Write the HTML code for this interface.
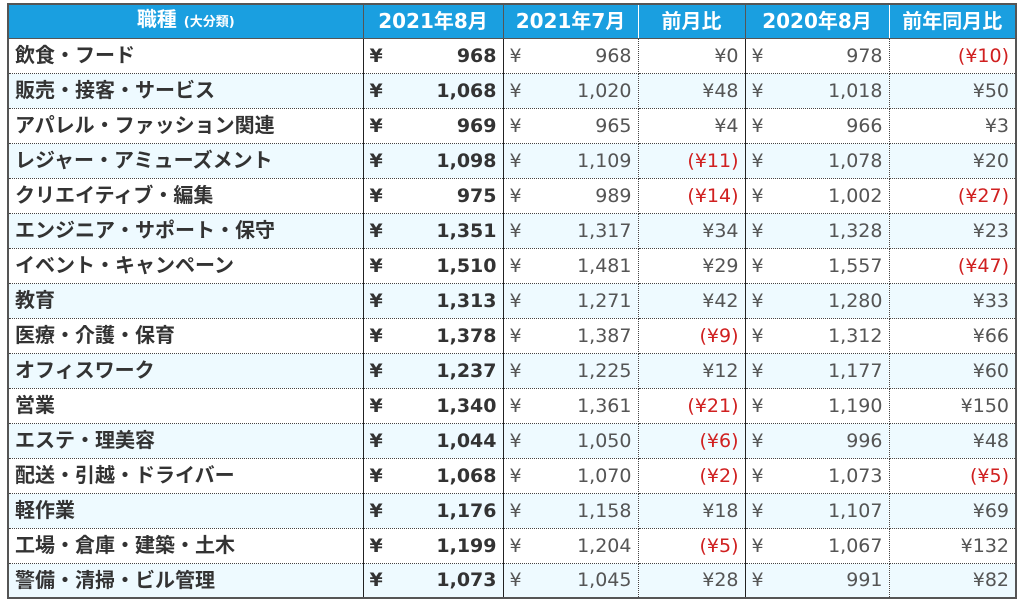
<!DOCTYPE html>
<html><head><meta charset="utf-8"><style>
html,body{margin:0;padding:0;background:#fff;width:1024px;height:599px;overflow:hidden}
table{position:absolute;left:7px;top:3px;border-collapse:collapse;table-layout:fixed;border:2px solid #555;
font-family:"DejaVu Sans","Noto Sans CJK JP",sans-serif;font-size:19px;color:#555}
td,th{height:35px;padding:0 6px;white-space:nowrap;border-bottom:1px dotted #444;overflow:hidden;line-height:20px;vertical-align:middle;box-sizing:border-box}
th{background:#1a9fe0;color:#fff;font-weight:bold;height:34px;font-size:20px;border-bottom:1px solid #555}
tr:nth-child(odd) td{background:#eefaff}
tr:nth-child(even) td{background:#fff}
.j{font-weight:bold;color:#333;text-align:left;border-right:1px solid #222;font-family:"Noto Sans CJK JP",sans-serif;font-size:20px;padding-bottom:3px}
.a{font-weight:bold;color:#333;border-right:1px solid #222}
.b{border-right:1px dotted #444}
.c{text-align:right;border-right:1px solid #222}
.d{border-right:1px dotted #444}
.e{text-align:right}
.y{float:left}.v{float:right}
.r{color:#d02020}
th.s{border-right:1px dotted #fff}
small{font-size:13px}
</style></head><body>
<table>
<colgroup><col style="width:355px"><col style="width:140px"><col style="width:135px"><col style="width:107px"><col style="width:144px"><col style="width:127px"></colgroup>
<tr><th style="border-right:1px solid #555">職種 <small>(大分類)</small></th><th style="border-right:1px solid #555">2021年8月</th><th class="s">2021年7月</th><th style="border-right:1px solid #555">前月比</th><th class="s">2020年8月</th><th>前年同月比</th></tr>
<tr><td class="j">飲食・フード</td><td class="a"><span class="y">¥</span><span class="v">968</span></td><td class="b"><span class="y">¥</span><span class="v">968</span></td><td class="c">¥0</td><td class="d"><span class="y">¥</span><span class="v">978</span></td><td class="e r">(¥10)</td></tr>
<tr><td class="j">販売・接客・サービス</td><td class="a"><span class="y">¥</span><span class="v">1,068</span></td><td class="b"><span class="y">¥</span><span class="v">1,020</span></td><td class="c">¥48</td><td class="d"><span class="y">¥</span><span class="v">1,018</span></td><td class="e">¥50</td></tr>
<tr><td class="j">アパレル・ファッション関連</td><td class="a"><span class="y">¥</span><span class="v">969</span></td><td class="b"><span class="y">¥</span><span class="v">965</span></td><td class="c">¥4</td><td class="d"><span class="y">¥</span><span class="v">966</span></td><td class="e">¥3</td></tr>
<tr><td class="j">レジャー・アミューズメント</td><td class="a"><span class="y">¥</span><span class="v">1,098</span></td><td class="b"><span class="y">¥</span><span class="v">1,109</span></td><td class="c r">(¥11)</td><td class="d"><span class="y">¥</span><span class="v">1,078</span></td><td class="e">¥20</td></tr>
<tr><td class="j">クリエイティブ・編集</td><td class="a"><span class="y">¥</span><span class="v">975</span></td><td class="b"><span class="y">¥</span><span class="v">989</span></td><td class="c r">(¥14)</td><td class="d"><span class="y">¥</span><span class="v">1,002</span></td><td class="e r">(¥27)</td></tr>
<tr><td class="j">エンジニア・サポート・保守</td><td class="a"><span class="y">¥</span><span class="v">1,351</span></td><td class="b"><span class="y">¥</span><span class="v">1,317</span></td><td class="c">¥34</td><td class="d"><span class="y">¥</span><span class="v">1,328</span></td><td class="e">¥23</td></tr>
<tr><td class="j">イベント・キャンペーン</td><td class="a"><span class="y">¥</span><span class="v">1,510</span></td><td class="b"><span class="y">¥</span><span class="v">1,481</span></td><td class="c">¥29</td><td class="d"><span class="y">¥</span><span class="v">1,557</span></td><td class="e r">(¥47)</td></tr>
<tr><td class="j">教育</td><td class="a"><span class="y">¥</span><span class="v">1,313</span></td><td class="b"><span class="y">¥</span><span class="v">1,271</span></td><td class="c">¥42</td><td class="d"><span class="y">¥</span><span class="v">1,280</span></td><td class="e">¥33</td></tr>
<tr><td class="j">医療・介護・保育</td><td class="a"><span class="y">¥</span><span class="v">1,378</span></td><td class="b"><span class="y">¥</span><span class="v">1,387</span></td><td class="c r">(¥9)</td><td class="d"><span class="y">¥</span><span class="v">1,312</span></td><td class="e">¥66</td></tr>
<tr><td class="j">オフィスワーク</td><td class="a"><span class="y">¥</span><span class="v">1,237</span></td><td class="b"><span class="y">¥</span><span class="v">1,225</span></td><td class="c">¥12</td><td class="d"><span class="y">¥</span><span class="v">1,177</span></td><td class="e">¥60</td></tr>
<tr><td class="j">営業</td><td class="a"><span class="y">¥</span><span class="v">1,340</span></td><td class="b"><span class="y">¥</span><span class="v">1,361</span></td><td class="c r">(¥21)</td><td class="d"><span class="y">¥</span><span class="v">1,190</span></td><td class="e">¥150</td></tr>
<tr><td class="j">エステ・理美容</td><td class="a"><span class="y">¥</span><span class="v">1,044</span></td><td class="b"><span class="y">¥</span><span class="v">1,050</span></td><td class="c r">(¥6)</td><td class="d"><span class="y">¥</span><span class="v">996</span></td><td class="e">¥48</td></tr>
<tr><td class="j">配送・引越・ドライバー</td><td class="a"><span class="y">¥</span><span class="v">1,068</span></td><td class="b"><span class="y">¥</span><span class="v">1,070</span></td><td class="c r">(¥2)</td><td class="d"><span class="y">¥</span><span class="v">1,073</span></td><td class="e r">(¥5)</td></tr>
<tr><td class="j">軽作業</td><td class="a"><span class="y">¥</span><span class="v">1,176</span></td><td class="b"><span class="y">¥</span><span class="v">1,158</span></td><td class="c">¥18</td><td class="d"><span class="y">¥</span><span class="v">1,107</span></td><td class="e">¥69</td></tr>
<tr><td class="j">工場・倉庫・建築・土木</td><td class="a"><span class="y">¥</span><span class="v">1,199</span></td><td class="b"><span class="y">¥</span><span class="v">1,204</span></td><td class="c r">(¥5)</td><td class="d"><span class="y">¥</span><span class="v">1,067</span></td><td class="e">¥132</td></tr>
<tr><td class="j">警備・清掃・ビル管理</td><td class="a"><span class="y">¥</span><span class="v">1,073</span></td><td class="b"><span class="y">¥</span><span class="v">1,045</span></td><td class="c">¥28</td><td class="d"><span class="y">¥</span><span class="v">991</span></td><td class="e">¥82</td></tr>
</table>
</body></html>
